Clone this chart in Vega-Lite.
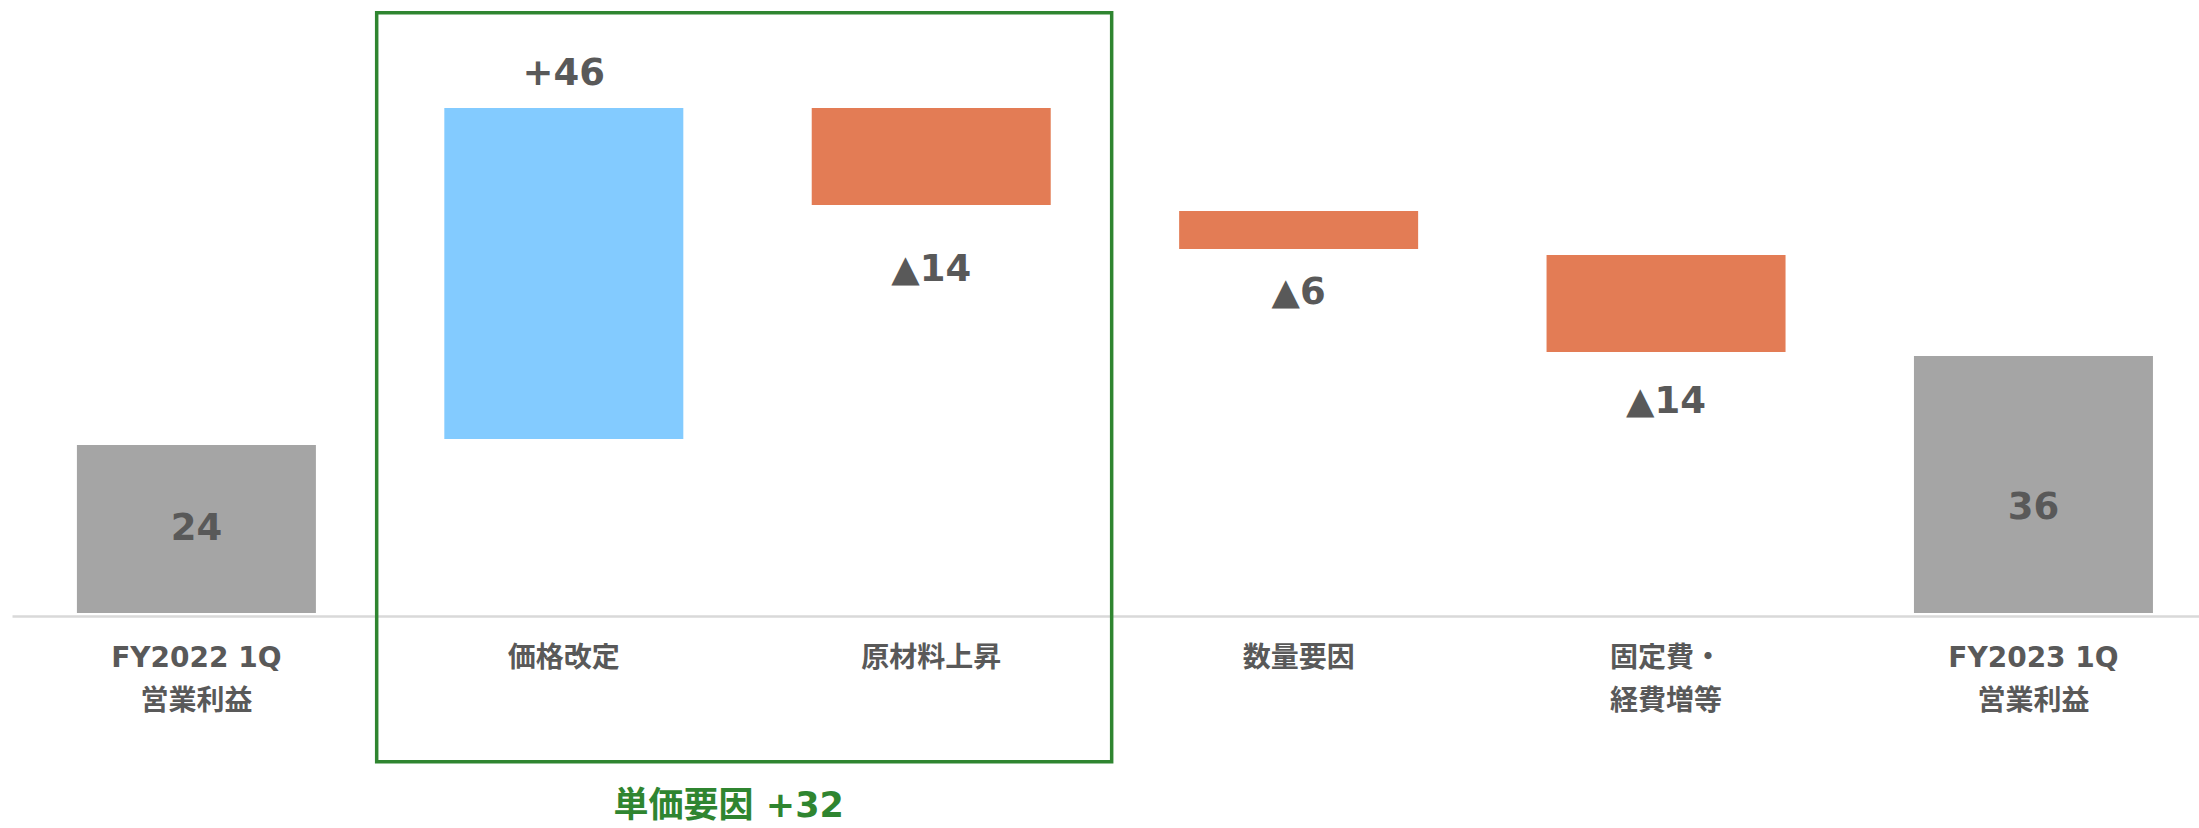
{
  "$schema": "https://vega.github.io/schema/vega-lite/v6.json",
  "width": 2187,
  "height": 613,
  "autosize": "none",
  "padding": {"left": 12, "top": 0, "right": 0, "bottom": 215},
  "background": "white",
  "config": {"view": {"stroke": null}},
  "datasets": {
    "bars": [
      {"cat": "FY2022 1Q|営業利益", "kind": "total", "start": 0, "end": 23.57, "label": "24", "label_at": 11.78},
      {"cat": "価格改定", "kind": "increase", "start": 24.41, "end": 70.85, "label": "+46", "label_at": 75.62},
      {"cat": "原材料上昇", "kind": "decrease", "start": 70.85, "end": 57.24, "label": "▲14", "label_at": 48.12},
      {"cat": "数量要因", "kind": "decrease", "start": 56.4, "end": 51.07, "label": "▲6", "label_at": 44.89},
      {"cat": "固定費・|経費増等", "kind": "decrease", "start": 50.22, "end": 36.62, "label": "▲14", "label_at": 29.6},
      {"cat": "FY2023 1Q|営業利益", "kind": "total", "start": 0, "end": 36.05, "label": "36", "label_at": 14.73}
    ],
    "group": [
      {"from": "価格改定", "to": "原材料上昇", "top": 84.22, "bottom": -20.86, "label": "単価要因 +32", "label_at": -27.1}
    ]
  },
  "layer": [
    {
      "data": {"name": "bars"},
      "mark": {"type": "bar"},
      "encoding": {
        "x": {
          "field": "cat", "type": "nominal", "title": null,
          "scale": {
            "domain": ["FY2022 1Q|営業利益", "価格改定", "原材料上昇", "数量要因", "固定費・|経費増等", "FY2023 1Q|営業利益"],
            "paddingInner": 0.3495, "paddingOuter": 0.151, "align": 0.585
          },
          "axis": {
            "orient": "bottom", "offset": 3, "domainColor": "#d9d9d9", "domainWidth": 2.5,
            "ticks": false, "labelAngle": 0, "labelPadding": 28, "labelBaseline": "top",
            "labelFont": "DejaVu Sans, Noto Sans CJK JP", "labelFontSize": 28, "labelFontWeight": "bold",
            "labelColor": "#595959", "labelLineHeight": 43,
            "labelExpr": "split(datum.label, '|')"
          }
        },
        "y": {"field": "start", "type": "quantitative", "scale": {"domain": [0, 86], "nice": false, "zero": false}, "axis": null},
        "y2": {"field": "end"},
        "color": {
          "field": "kind", "type": "nominal", "legend": null,
          "scale": {"domain": ["total", "increase", "decrease"], "range": ["#a5a5a5", "#83cbff", "#e37c55"]}
        }
      }
    },
    {
      "data": {"name": "bars"},
      "mark": {"type": "text", "font": "DejaVu Sans", "fontSize": 37, "fontWeight": "bold", "color": "#595959", "baseline": "middle", "align": "center"},
      "encoding": {
        "x": {"field": "cat", "type": "nominal"},
        "y": {"field": "label_at", "type": "quantitative"},
        "text": {"field": "label"}
      }
    },
    {
      "data": {"name": "group"},
      "mark": {"type": "rect", "fill": null, "fillOpacity": 0, "stroke": "#2f8530", "strokeWidth": 3.5},
      "encoding": {
        "x": {"field": "from", "type": "nominal", "bandPosition": -0.283},
        "x2": {"field": "to", "bandPosition": 1.255},
        "y": {"field": "top", "type": "quantitative"},
        "y2": {"field": "bottom"}
      }
    },
    {
      "data": {"name": "group"},
      "mark": {"type": "text", "font": "DejaVu Sans, Noto Sans CJK JP", "fontSize": 35, "fontWeight": "bold", "color": "#2f8530", "baseline": "middle", "align": "center"},
      "encoding": {
        "x": {"field": "from", "type": "nominal", "bandPosition": 1.19},
        "y": {"field": "label_at", "type": "quantitative"},
        "text": {"field": "label"}
      }
    }
  ]
}
